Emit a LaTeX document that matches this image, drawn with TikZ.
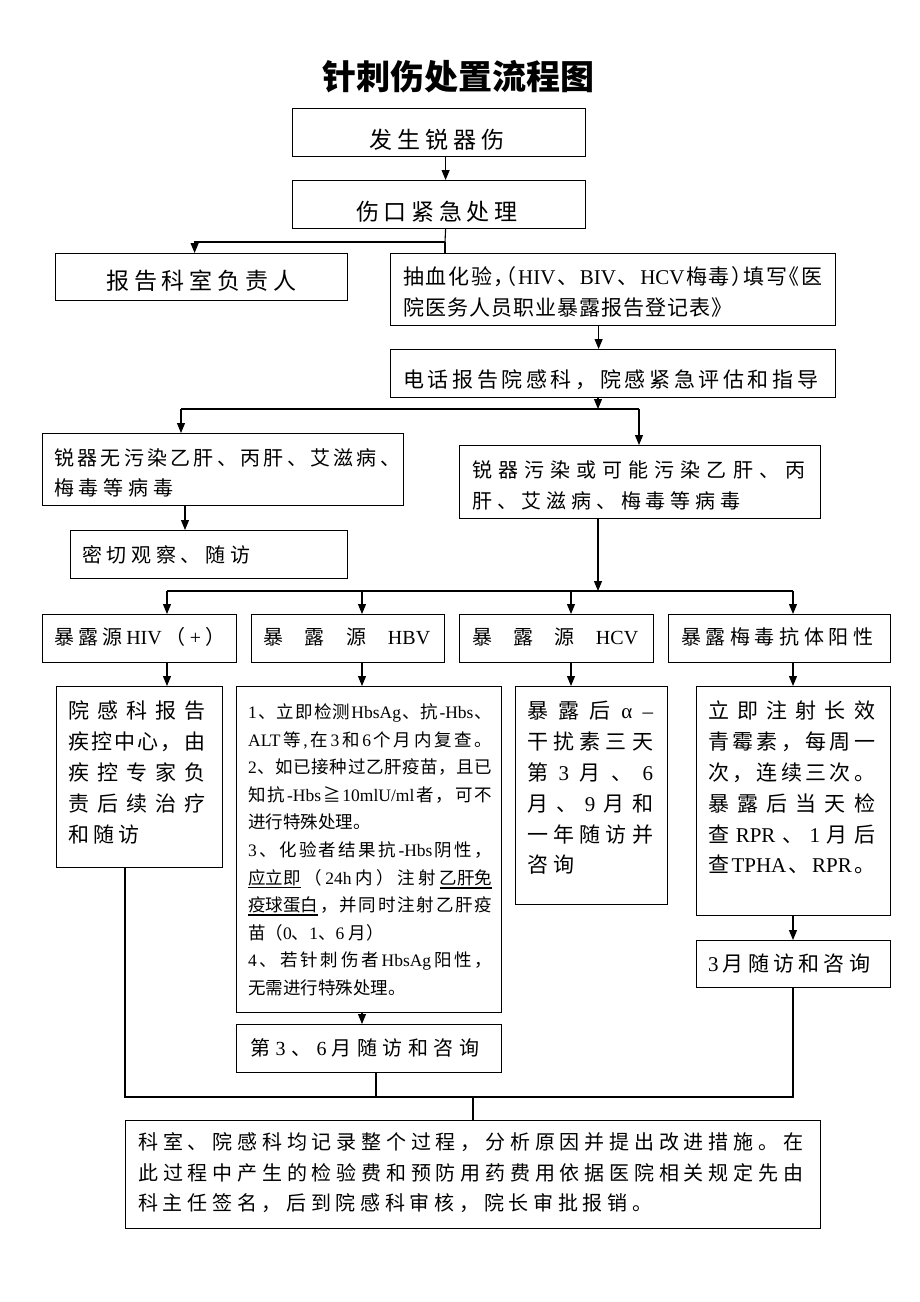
\documentclass[tikz,border=0pt]{standalone}
\usepackage{fontspec}
\setmainfont{Noto Sans CJK SC}
\newfontfamily\lat{Liberation Serif}
\usetikzlibrary{arrows.meta}
\makeatletter
\newcommand\spr[2]{\hbox to #1pt{\let\sprsep\relax\@tfor\sprtok:=#2\do{\sprsep\sprtok\let\sprsep\hfill}}}
\makeatother
\newcommand\lw[1]{{\lat #1}}
\newcommand\hl[1]{\makebox[0.5em][l]{#1}}
\newcommand\hr[1]{\makebox[0.5em][r]{#1}}
\newcommand\fs[1]{\fontsize{#1}{#1}\selectfont}
\newcommand\ulthin[1]{\setbox0=\hbox{#1}\rlap{\vrule width\wd0 height -2.8pt depth 3.6pt}\box0}
\newcommand\ulthick[1]{\setbox0=\hbox{#1}\rlap{\vrule width\wd0 height -2.6pt depth 4.4pt}\box0}
\newcommand\blk[2]{\vtop{\baselineskip=#1pt\lineskiplimit=-100pt\lineskip=0pt #2}}
\tikzset{
  bx/.style={draw=black, line width=1.2pt, inner sep=0pt, anchor=north west},
  txt/.style={inner sep=0pt, anchor=base west},
  arr/.style={line width=1.1pt, -{Triangle[length=10pt,width=8pt]}},
  ln/.style={line width=1.1pt}
}
\begin{document}
\begin{tikzpicture}[x=1pt,y=-1pt]
\fill[white] (0,0) rectangle (920,1302);
\useasboundingbox (0,0) rectangle (920,1302);

% title
\node[inner sep=0pt, anchor=base, font=\fs{34}\bfseries] (title) at (458.5,89.6) {针刺伤处置流程图};

% boxes
\node[bx, minimum width=293pt, minimum height=48pt] (b1) at (292,108) {};
\node[bx, minimum width=293pt, minimum height=48pt] (b2) at (292,180) {};
\node[bx, minimum width=292pt, minimum height=47pt] (b3) at (55,253) {};
\node[bx, minimum width=445pt, minimum height=72pt] (b4) at (390,253) {};
\node[bx, minimum width=445pt, minimum height=48pt] (b5) at (390,349) {};
\node[bx, minimum width=361pt, minimum height=72pt] (b6) at (42,433) {};
\node[bx, minimum width=361pt, minimum height=73pt] (b7) at (459,445) {};
\node[bx, minimum width=277pt, minimum height=48pt] (b8) at (70,530) {};
\node[bx, minimum width=194pt, minimum height=48pt] (b9) at (42,614) {};
\node[bx, minimum width=193pt, minimum height=48pt] (b10) at (251,614) {};
\node[bx, minimum width=194pt, minimum height=48pt] (b11) at (459,614) {};
\node[bx, minimum width=222pt, minimum height=48pt] (b12) at (668,614) {};
\node[bx, minimum width=166pt, minimum height=181pt] (b13) at (56,686) {};
\node[bx, minimum width=265pt, minimum height=326pt] (b14) at (236,686) {};
\node[bx, minimum width=152pt, minimum height=218pt] (b15) at (515,686) {};
\node[bx, minimum width=194pt, minimum height=229pt] (b16) at (696,686) {};
\node[bx, minimum width=194pt, minimum height=47pt] (b17) at (696,940) {};
\node[bx, minimum width=265pt, minimum height=48pt] (b18) at (236,1024) {};
\node[bx, minimum width=695pt, minimum height=108pt] (b19) at (125,1120) {};

% texts
\node[txt, font=\fs{23}] (t1) at (369,148.5) {\spr{135}{发生锐器伤}};
\node[txt, font=\fs{23}] (t2) at (356,220.5) {\spr{161}{伤口紧急处理}};
\node[txt, font=\fs{23}] (t3) at (106,289.5) {\spr{190}{报告科室负责人}};
\node[txt, font=\fs{21}] (t4) at (403,284.8) {\blk{30.5}{%
  \spr{419}{抽血化验{\hl{，}}{\hr{（}}{\lw{HIV}}、{\lw{BIV}}、{\lw{HCV}}梅毒{\hl{）}}填写{\hr{《}}医}%
  \spr{329}{院医务人员职业暴露报告登记表》}}};
\node[txt, font=\fs{21}] (t5) at (403,387.8) {\spr{415}{电话报告院感科，院感紧急评估和指导}};
\node[txt, font=\fs{20}] (t6) at (54,465.4) {\blk{30.5}{%
  \spr{346}{锐器无污染乙肝、丙肝、艾滋病、}%
  \spr{119}{梅毒等病毒}}};
\node[txt, font=\fs{20}] (t7) at (472,477.4) {\blk{31}{%
  \spr{333}{锐器污染或可能污染乙肝、丙}%
  \spr{268}{肝、艾滋病、梅毒等病毒}}};
\node[txt, font=\fs{20}] (t8) at (82,562.4) {\spr{168}{密切观察、随访}};
\node[txt, font=\fs{20}] (t9) at (54,644.4) {\spr{171}{暴露源{\lw{HIV}}（{\lw{+}}）}};
\node[txt, font=\fs{20}] (t10) at (263,644.4) {\spr{167}{暴露源{\lw{HBV}}}};
\node[txt, font=\fs{20}] (t11) at (472,644.4) {\spr{166}{暴露源{\lw{HCV}}}};
\node[txt, font=\fs{20}] (t12) at (681,644.4) {\spr{192}{暴露梅毒抗体阳性}};
\node[txt, font=\fs{21}] (t13) at (68,718.8) {\blk{31}{%
  \spr{137}{院感科报告}%
  \spr{137}{疾控中心，由}%
  \spr{137}{疾控专家负}%
  \spr{137}{责后续治疗}%
  \spr{71}{和随访}}};
\node[txt, font=\fs{17.5}] (t14) at (248,718.5) {\blk{27.6}{%
  \spr{244}{{\lw{1}}、立即检测{\lw{HbsAg}}、抗{\lw{-Hbs}}、}%
  \spr{244}{{\lw{ALT}}等{\lw{,}}在{\lw{3}}和{\lw{6}}个月内复查。}%
  \spr{244}{{\lw{2}}、如已接种过乙肝疫苗，且已}%
  \spr{244}{知抗{\lw{-Hbs}}≧{\lw{10mlU/ml}}者，可不}%
  \hbox{进行特殊处理。}%
  \spr{244}{{\lw{3}}、化验者结果抗{\lw{-Hbs}}阴性，}%
  \spr{244}{{\ulthin{应立即}}（{\lw{24h}}内）注射{\ulthick{乙肝免}}}%
  \spr{244}{{\ulthick{疫球蛋白}}，并同时注射乙肝疫}%
  \hbox{苗（\lw{0}、\lw{1}、\lw{6 }月）}%
  \spr{244}{{\lw{4}}、若针刺伤者{\lw{HbsAg}}阳性，}%
  \hbox{无需进行特殊处理。}}};
\node[txt, font=\fs{21}] (t15) at (527,718.8) {\blk{30.8}{%
  \spr{126}{暴露后{\lw{α}}{\lw{–}}}%
  \spr{126}{干扰素三天}%
  \spr{126}{第{\lw{3}}月、{\lw{6}}}%
  \spr{126}{月、{\lw{9}}月和}%
  \spr{126}{一年随访并}%
  \spr{47}{咨询}}};
\node[txt, font=\fs{21}] (t16) at (708,718.8) {\blk{30.8}{%
  \spr{167}{立即注射长效}%
  \spr{167}{青霉素，每周一}%
  \spr{167}{次，连续三次。}%
  \spr{167}{暴露后当天检}%
  \spr{167}{查{\lw{RPR}}、{\lw{1}}月后}%
  \spr{167}{查{\lw{TPHA}}、{\lw{RPR}}。}}};
\node[txt, font=\fs{21}] (t17) at (708,971.8) {\spr{162}{{\lw{3}}月随访和咨询}};
\node[txt, font=\fs{20}] (t18) at (250,1055.4) {\spr{229}{第{\lw{3}}、{\lw{6}}月随访和咨询}};
\node[txt, font=\fs{20}] (t19) at (138,1149.4) {\blk{30.7}{%
  \spr{665}{科室、院感科均记录整个过程，分析原因并提出改进措施。在}%
  \spr{665}{此过程中产生的检验费和预防用药费用依据医院相关规定先由}%
  \spr{514}{科主任签名，后到院感科审核，院长审批报销。}}};

% connectors
\draw[arr] ([xshift=6.5pt]b1.south) -- ([xshift=6.5pt]b2.north);
\coordinate (j1) at (445,242);
\draw[ln] ([xshift=6.5pt]b2.south) -- (j1);
\draw[arr] (j1) -| ([xshift=-7pt]b3.north);
\draw[ln] (j1) -- (j1 |- b4.north);
\draw[arr] ([xshift=-14.5pt]b4.south) -- ([xshift=-14.5pt]b5.north);
\coordinate (j2) at (598,409);
\coordinate (j2l) at (181,409);
\coordinate (j2r) at (639,409);
\draw[arr] (j2 |- b5.south) -- (j2);
\draw[ln] (j2l) -- (j2r);
\draw[arr] (j2l) -- (j2l |- b6.north);
\draw[arr] (j2r) -- (j2r |- b7.north);
\coordinate (k1) at (185,0);
\draw[arr] (k1 |- b6.south) -- (k1 |- b8.north);
\coordinate (j3) at (598,591);
\coordinate (j3a) at (167,591);
\coordinate (j3b) at (362,591);
\coordinate (j3c) at (571,591);
\coordinate (j3d) at (793,591);
\draw[arr] (j3 |- b7.south) -- (j3);
\draw[ln] (j3a) -- (j3d);
\draw[arr] (j3a) -- (j3a |- b9.north);
\draw[arr] (j3b) -- (j3b |- b10.north);
\draw[arr] (j3c) -- (j3c |- b11.north);
\draw[arr] (j3d) -- (j3d |- b12.north);
\draw[arr] (j3a |- b9.south) -- (j3a |- b13.north);
\draw[arr] (j3b |- b10.south) -- (j3b |- b14.north);
\draw[arr] (j3c |- b11.south) -- (j3c |- b15.north);
\draw[arr] (j3d |- b12.south) -- (j3d |- b16.north);
\draw[arr] (j3d |- b16.south) -- (j3d |- b17.north);
\draw[arr] (j3b |- b14.south) -- (j3b |- b18.north);
\coordinate (j4a) at (125,1097);
\coordinate (j4b) at (376,1097);
\coordinate (j4m) at (473,1097);
\coordinate (j4d) at (793,1097);
\draw[ln] (j4a |- b13.south) -- (j4a) -- (j4d) -- (j4d |- b17.south);
\draw[ln] (j4b |- b18.south) -- (j4b);
\draw[ln] (j4m) -- (j4m |- b19.north);
\end{tikzpicture}
\end{document}
